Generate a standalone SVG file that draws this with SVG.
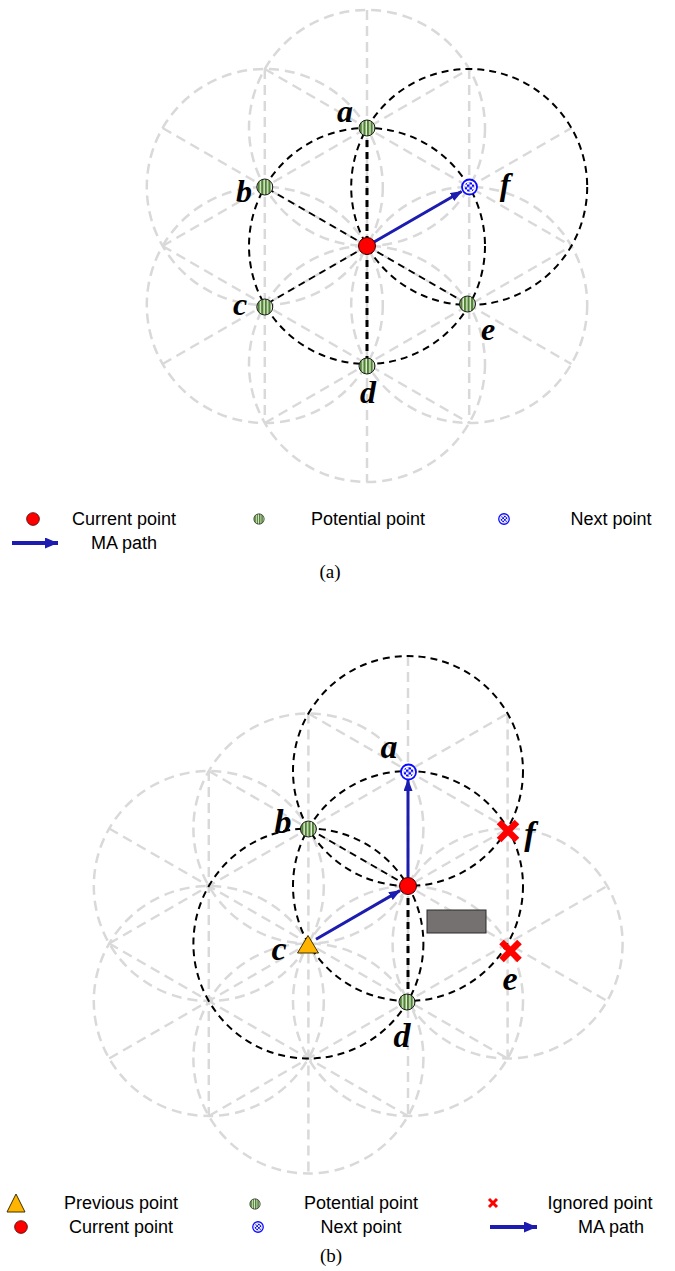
<svg xmlns="http://www.w3.org/2000/svg" xmlns:xlink="http://www.w3.org/1999/xlink" width="675" height="1271" viewBox="0 0 675 1271">
<style>
.g{fill:none;stroke:#d9d9d9;stroke-width:2.5;stroke-dasharray:10 6}
.k{fill:none;stroke:#000;stroke-width:2;stroke-dasharray:7 5}
.kt{fill:none;stroke:#000;stroke-width:3;stroke-dasharray:7 5}
.arr{fill:none;stroke:#1c1cb0;stroke-width:3}
.arrl{fill:none;stroke:#1c1cb0;stroke-width:4}
.lbl{font-family:"Liberation Serif","DejaVu Serif",serif;font-style:italic;font-weight:bold;font-size:32px;fill:#000;text-anchor:middle}
.lblb{font-size:34px}
.leg{font-family:"Liberation Sans",Arial,sans-serif;font-size:18px;fill:#000;text-anchor:middle}
.cap{font-family:"Liberation Serif","Times New Roman",serif;font-size:19px;fill:#000;text-anchor:middle}
.x{stroke:#ff0000;stroke-width:6.5;stroke-linecap:butt;fill:none}
</style>
<defs>
<pattern id="stripes" patternUnits="userSpaceOnUse" width="3.6" height="20">
<rect width="3.6" height="20" fill="#4f8232"/>
<rect x="2.2" width="1.4" height="20" fill="#e6f0dc"/>
</pattern>
<pattern id="checker" patternUnits="userSpaceOnUse" x="-2.5" y="-2.5" width="5" height="5">
<rect width="5" height="5" fill="#fff"/>
<rect width="2.5" height="2.5" fill="#0a0aff"/>
<rect x="2.5" y="2.5" width="2.5" height="2.5" fill="#0a0aff"/>
</pattern>
<marker id="ah" markerWidth="12" markerHeight="9" refX="11" refY="4.5" orient="auto" markerUnits="userSpaceOnUse">
<path d="M0,0 L12,4.5 L0,9 z" fill="#1c1cb0"/>
</marker>
<marker id="ahl" markerWidth="13" markerHeight="11" refX="13" refY="5.5" orient="auto" markerUnits="userSpaceOnUse">
<path d="M0,0 L13,5.5 L0,11 z" fill="#1c1cb0"/>
</marker>
<g id="mPot"><circle r="8" fill="url(#stripes)" stroke="#1a1a1a" stroke-width="1"/></g>
<g id="mCur"><circle r="8.5" fill="#ff0000" stroke="#3a0000" stroke-width="1"/></g>
<g id="mNext"><circle r="7.5" fill="#fff" stroke="#0a0aff" stroke-width="1.8"/><circle r="5" fill="url(#checker)"/></g>
</defs>
<rect width="675" height="1271" fill="#fff"/>

<!-- ===== (a) ===== -->
<g id="grid-a" class="g">
<circle cx="367" cy="128" r="118"/>
<circle cx="264.8" cy="187" r="118"/>
<circle cx="264.8" cy="305" r="118"/>
<circle cx="367" cy="364" r="118"/>
<circle cx="469.2" cy="305" r="118"/>
<line x1="367" y1="10" x2="367" y2="482"/>
<line x1="469.2" y1="69" x2="469.2" y2="423"/>
<line x1="264.8" y1="69" x2="264.8" y2="423"/>
<line x1="162.6" y1="128" x2="571.4" y2="364"/>
<line x1="264.8" y1="69" x2="571.4" y2="246"/>
<line x1="162.6" y1="246" x2="469.2" y2="423"/>
<line x1="162.6" y1="364" x2="571.4" y2="128"/>
<line x1="264.8" y1="423" x2="571.4" y2="246"/>
<line x1="162.6" y1="246" x2="469.2" y2="69"/>
</g>
<g id="connectors-a">
<circle class="k" cx="367" cy="246" r="118"/>
<circle class="k" cx="469.2" cy="187" r="118"/>
<line class="kt" x1="367" y1="128" x2="367" y2="364"/>
<line class="k" x1="367" y1="246" x2="264.8" y2="187"/>
<line class="k" x1="367" y1="246" x2="264.8" y2="305"/>
<line class="k" x1="367" y1="246" x2="469.2" y2="305"/>
<line class="arr" x1="374" y1="242" x2="461.5" y2="191.5" marker-end="url(#ah)"/>
</g>
<g id="node-a-current"><use xlink:href="#mCur" x="367" y="246"/></g>
<g id="node-a-a"><use xlink:href="#mPot" x="367" y="128"/><text class="lbl" x="345" y="122">a</text></g>
<g id="node-a-b"><use xlink:href="#mPot" x="264.8" y="187"/><text class="lbl" x="244" y="202">b</text></g>
<g id="node-a-c"><use xlink:href="#mPot" x="264.8" y="307"/><text class="lbl" x="240" y="315">c</text></g>
<g id="node-a-d"><use xlink:href="#mPot" x="367" y="366"/><text class="lbl" x="368" y="403">d</text></g>
<g id="node-a-e"><use xlink:href="#mPot" x="467.5" y="304"/><text class="lbl" x="488" y="340">e</text></g>
<g id="node-a-f"><use xlink:href="#mNext" x="469.5" y="187"/><text class="lbl" x="505" y="195">f</text></g>

<g id="legend-a">
<use xlink:href="#mCur" transform="translate(33,519) scale(0.75)"/>
<text class="leg" x="124" y="525">Current point</text>
<use xlink:href="#mPot" transform="translate(259,519) scale(0.65)"/>
<text class="leg" x="368" y="525">Potential point</text>
<use xlink:href="#mNext" transform="translate(504,519) scale(0.7)"/>
<text class="leg" x="611" y="525">Next point</text>
<line class="arrl" x1="12" y1="543" x2="58" y2="543" marker-end="url(#ahl)"/>
<text class="leg" x="124" y="549">MA path</text>
<text class="cap" x="330" y="578">(a)</text>
</g>

<!-- ===== (b) ===== -->
<g id="grid-b" class="g">
<circle cx="308.4" cy="828.5" r="115"/>
<circle cx="408" cy="1001" r="115"/>
<circle cx="507.6" cy="943.5" r="115"/>
<circle cx="208.8" cy="886" r="115"/>
<circle cx="208.8" cy="1001" r="115"/>
<circle cx="308.4" cy="1058.5" r="115"/>
<line x1="408" y1="656" x2="408" y2="1116"/>
<line x1="507.6" y1="713.5" x2="507.6" y2="1058.5"/>
<line x1="308.4" y1="713.5" x2="308.4" y2="1173.5"/>
<line x1="208.8" y1="771" x2="208.8" y2="1116"/>
<line x1="308.4" y1="713.5" x2="507.6" y2="828.5"/>
<line x1="208.8" y1="771" x2="607.2" y2="1001"/>
<line x1="109.2" y1="828.5" x2="507.6" y2="1058.5"/>
<line x1="109.2" y1="943.5" x2="408" y2="1116"/>
<line x1="109.2" y1="943.5" x2="507.6" y2="713.5"/>
<line x1="109.2" y1="1058.5" x2="507.6" y2="828.5"/>
<line x1="208.8" y1="1116" x2="607.2" y2="886"/>
</g>
<g id="connectors-b">
<circle class="k" cx="408" cy="771" r="115"/>
<circle class="k" cx="408" cy="886" r="115"/>
<circle class="k" cx="308.4" cy="943.5" r="115"/>
<line class="k" x1="308.4" y1="828.5" x2="408" y2="886"/>
<line class="kt" x1="408" y1="886" x2="408" y2="1001"/>
<line class="arr" x1="316" y1="939.2" x2="400" y2="890.6" marker-end="url(#ah)"/>
<line class="arr" x1="408" y1="877" x2="408" y2="780" marker-end="url(#ah)"/>
</g>
<g id="obstacle"><rect x="427" y="910" width="59" height="23" fill="#767171" stroke="#2b2b2b" stroke-width="1"/></g>
<g id="node-b-current"><use xlink:href="#mCur" x="408" y="886"/></g>
<g id="node-b-a"><use xlink:href="#mNext" x="408.5" y="772"/><text class="lbl lblb" x="389" y="758">a</text></g>
<g id="node-b-b"><use xlink:href="#mPot" x="308.4" y="829"/><text class="lbl lblb" x="283" y="833">b</text></g>
<g id="node-b-c"><path d="M308,935.5 L318.5,953 L297.5,953 Z" fill="#ffb400" stroke="#3a3000" stroke-width="1"/><text class="lbl lblb" x="279" y="960">c</text></g>
<g id="node-b-d"><use xlink:href="#mPot" x="407" y="1002"/><text class="lbl lblb" x="402" y="1047">d</text></g>
<g id="node-b-e"><path class="x" d="M501.5,942 L519.5,960 M519.5,942 L501.5,960"/><text class="lbl lblb" x="510" y="990">e</text></g>
<g id="node-b-f"><path class="x" d="M499,822 L517,840 M517,822 L499,840"/><text class="lbl lblb" x="530" y="845">f</text></g>

<g id="legend-b">
<path d="M16,1194 L25,1212 L7,1212 Z" fill="#ffb400" stroke="#3a3000" stroke-width="1"/>
<text class="leg" x="121" y="1209">Previous point</text>
<use xlink:href="#mPot" transform="translate(255,1204) scale(0.65)"/>
<text class="leg" x="361" y="1209">Potential point</text>
<path d="M489,1199 L497,1207 M497,1199 L489,1207" stroke="#ff0000" stroke-width="3"/>
<text class="leg" x="600" y="1209">Ignored point</text>
<use xlink:href="#mCur" transform="translate(21,1227) scale(0.75)"/>
<text class="leg" x="121" y="1233">Current point</text>
<use xlink:href="#mNext" transform="translate(258,1227) scale(0.7)"/>
<text class="leg" x="361" y="1233">Next point</text>
<line class="arrl" x1="490" y1="1227" x2="537" y2="1227" marker-end="url(#ahl)"/>
<text class="leg" x="611" y="1233">MA path</text>
<text class="cap" x="331" y="1262">(b)</text>
</g>
</svg>
